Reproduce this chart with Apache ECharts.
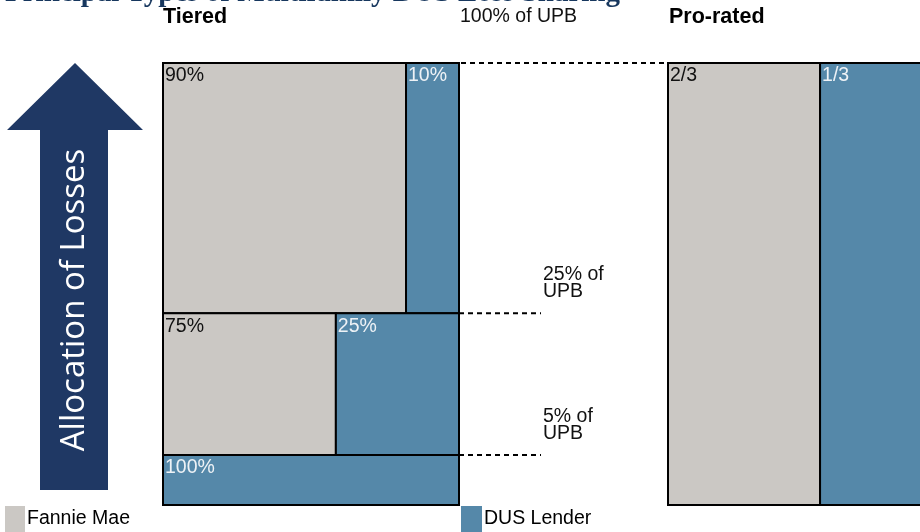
<!DOCTYPE html>
<html>
<head>
<meta charset="utf-8">
<script src="https://cdn.jsdelivr.net/npm/echarts@6/dist/echarts.min.js"></script>
<style>
  html, body { margin: 0; padding: 0; background: #fff; }
  #main { width: 920px; height: 532px; }
</style>
</head>
<body>
<div id="main"></div>
<script>
// tiers drawn top to bottom, heights/splits are schematic (as drawn)
var tierNames = ['First loss tier', 'Second tier', 'Remaining tier'];
var tierTop = [100, 43.4, 11.3];
var tierBottom = [43.4, 11.3, 0];
var tierSplit = [82.1, 58.4, 0];
var tierFannieLabels = ['90%', '75%', ''];
var tierLenderLabels = ['10%', '25%', '100%'];
var boundaryLabels = ['100% of UPB', '25% of\nUPB', '5% of\nUPB'];

var proSplit = [52.8];
var proFannieLabels = ['2/3'];
var proLenderLabels = ['1/3'];

var legendNames = ['Fannie Mae', 'DUS Lender'];

var GRAY = '#cbc8c4';
var BLUE = '#5588a9';
var NAVY = '#1f3864';
var FONT = '19.5px "Liberation Sans", Arial, sans-serif';
var BOLD = 'bold 21.5px "Liberation Sans", Arial, sans-serif';

var tierGrid = { left: 163, top: 63, width: 296, height: 442 };
var proGrid = { left: 668, top: 63, width: 252, height: 442 };
// the original is cropped on the right: only part of the pro-rated box shows
var proVisibleMax = 87.5;

function cellText(x, y, txt, color) {
  return { type: 'text', x: x + 2, y: y + 3, style: { text: txt, fill: color, font: FONT } };
}

function dash(x1, x2, y) {
  return { type: 'line', shape: { x1: x1, y1: y, x2: x2, y2: y },
    style: { stroke: '#000', lineWidth: 2, lineDash: [5, 4] } };
}

function renderTier(params, api) {
  var i = params.dataIndex;
  var tl = api.coord([0, tierTop[i]]);
  var sp = api.coord([tierSplit[i], tierBottom[i]]);
  var br = api.coord([100, tierBottom[i]]);
  var kids = [];
  if (tierSplit[i] > 0) {
    kids.push({ type: 'rect', shape: { x: tl[0], y: tl[1], width: sp[0] - tl[0], height: br[1] - tl[1] },
      style: { fill: GRAY, stroke: '#000', lineWidth: 2 } });
    kids.push(cellText(tl[0], tl[1], tierFannieLabels[i], '#111'));
  }
  kids.push({ type: 'rect', shape: { x: sp[0], y: tl[1], width: br[0] - sp[0], height: br[1] - tl[1] },
    style: { fill: BLUE, stroke: '#000', lineWidth: 2 } });
  kids.push(cellText(sp[0], tl[1], tierLenderLabels[i], '#eef2f6'));
  // dashed boundary line + label at the top of each tier
  if (i === 0) {
    kids.push(dash(br[0] + 2, proGrid.left, tl[1]));
    kids.push({ type: 'text', x: br[0] + 1, y: 17,
      style: { text: boundaryLabels[i], fill: '#111', font: FONT, verticalAlign: 'middle' } });
  } else {
    kids.push(dash(br[0], br[0] + 82, tl[1]));
    kids.push({ type: 'text', x: br[0] + 84, y: tl[1] - 13,
      style: { text: boundaryLabels[i], fill: '#111', font: FONT, lineHeight: 17, verticalAlign: 'bottom' } });
  }
  return { type: 'group', children: kids };
}

function renderPro(params, api) {
  var i = params.dataIndex;
  var tl = api.coord([0, 100]);
  var sp = api.coord([proSplit[i], 0]);
  var br = api.coord([100, 0]);
  return { type: 'group', children: [
    { type: 'rect', shape: { x: tl[0], y: tl[1], width: sp[0] - tl[0], height: br[1] - tl[1] },
      style: { fill: GRAY, stroke: '#000', lineWidth: 2 } },
    cellText(tl[0], tl[1], proFannieLabels[i], '#111'),
    { type: 'rect', shape: { x: sp[0], y: tl[1], width: br[0] - sp[0], height: br[1] - tl[1] },
      style: { fill: BLUE, stroke: '#000', lineWidth: 2 } },
    cellText(sp[0], tl[1], proLenderLabels[i], '#eef2f6')
  ] };
}

var hiddenValue = function (idx, max) {
  return { type: 'value', gridIndex: idx, min: 0, max: max, show: false };
};

var chart = echarts.init(document.getElementById('main'), null, { renderer: 'canvas' });
chart.setOption({
  animation: false,
  backgroundColor: '#fff',
  grid: [tierGrid, proGrid],
  xAxis: [hiddenValue(0, 100), hiddenValue(1, proVisibleMax)],
  yAxis: [hiddenValue(0, 100), hiddenValue(1, 100)],
  series: [
    { type: 'custom', name: 'Tiered', xAxisIndex: 0, yAxisIndex: 0, clip: false,
      renderItem: renderTier, data: tierNames.map(function (n, i) { return [tierSplit[i], tierTop[i]]; }) },
    { type: 'custom', name: 'Pro-rated', xAxisIndex: 1, yAxisIndex: 1, clip: false,
      renderItem: renderPro, data: proSplit.map(function (s) { return [s, 100]; }) }
  ],
  graphic: [
    { type: 'text', x: 5, y: 8,
      style: { text: 'Principal Types of Multifamily DUS Loss Sharing', fill: '#17375e',
        font: 'bold 29px "Liberation Serif", "DejaVu Serif", serif', verticalAlign: 'bottom' } },
    { type: 'text', x: 163, y: 17,
      style: { text: 'Tiered', fill: '#000', font: BOLD, verticalAlign: 'middle' } },
    { type: 'text', x: 669, y: 17,
      style: { text: 'Pro-rated', fill: '#000', font: BOLD, verticalAlign: 'middle' } },
    // big arrow
    { type: 'polygon', shape: { points: [[75, 63], [143, 130], [108, 130], [108, 490], [40, 490], [40, 130], [7, 130]] },
      style: { fill: NAVY } },
    { type: 'text', x: 75, y: 300, rotation: Math.PI / 2,
      style: { text: 'Allocation of Losses', fill: '#fff', font: '33px "Open Sans", "Noto Sans", sans-serif',
        align: 'center', verticalAlign: 'middle' } },
    // legend
    { type: 'rect', shape: { x: 5, y: 506, width: 20, height: 26 }, style: { fill: GRAY } },
    { type: 'text', x: 27, y: 519, style: { text: legendNames[0], fill: '#000', font: FONT, verticalAlign: 'middle' } },
    { type: 'rect', shape: { x: 461, y: 506, width: 21, height: 26 }, style: { fill: BLUE } },
    { type: 'text', x: 484, y: 519, style: { text: legendNames[1], fill: '#000', font: FONT, verticalAlign: 'middle' } }
  ]
});
</script>
</body>
</html>
